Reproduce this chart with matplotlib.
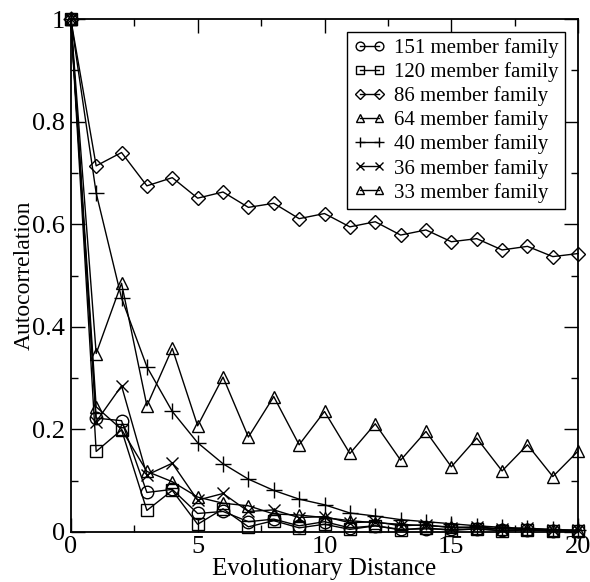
import matplotlib
matplotlib.use("Agg")
import matplotlib.pyplot as plt
from matplotlib.ticker import MultipleLocator, FixedLocator, FixedFormatter

plt.rcParams['font.family'] = ['Liberation Serif', 'DejaVu Serif']

distance = list(range(21))

fam151 = [1, 0.222, 0.217, 0.077, 0.083, 0.036, 0.040, 0.020, 0.025, 0.012, 0.020,
          0.008, 0.012, 0.005, 0.006, 0.005, 0.006, 0.003, 0.004, 0.002, 0.002]
fam120 = [1, 0.157, 0.199, 0.042, 0.081, 0.015, 0.045, 0.010, 0.022, 0.008, 0.015,
          0.005, 0.012, 0.004, 0.008, 0.003, 0.006, 0.002, 0.004, 0.002, 0.002]
fam86 = [1, 0.714, 0.740, 0.675, 0.691, 0.651, 0.663, 0.633, 0.641, 0.611, 0.621,
         0.595, 0.605, 0.579, 0.589, 0.566, 0.572, 0.550, 0.557, 0.537, 0.543]
fam64 = [1, 0.244, 0.200, 0.118, 0.098, 0.068, 0.056, 0.051, 0.035, 0.033, 0.028,
         0.022, 0.018, 0.015, 0.012, 0.010, 0.008, 0.006, 0.005, 0.004, 0.003]
fam40 = [1, 0.661, 0.456, 0.322, 0.235, 0.174, 0.133, 0.103, 0.081, 0.064, 0.053,
         0.037, 0.031, 0.024, 0.020, 0.016, 0.012, 0.009, 0.007, 0.005, 0.003]
fam36 = [1, 0.215, 0.285, 0.111, 0.134, 0.062, 0.075, 0.040, 0.043, 0.028, 0.030,
         0.018, 0.020, 0.012, 0.014, 0.008, 0.010, 0.006, 0.007, 0.004, 0.003]
fam33 = [1, 0.348, 0.485, 0.246, 0.358, 0.207, 0.302, 0.185, 0.264, 0.170, 0.235,
         0.153, 0.211, 0.140, 0.196, 0.127, 0.183, 0.119, 0.170, 0.108, 0.158]

labels = ["151 member family", "120 member family", "86 member family",
          "64 member family", "40 member family", "36 member family",
          "33 member family"]
series = [fam151, fam120, fam86, fam64, fam40, fam36, fam33]
markers = ['o', 's', 'D', '^', '+', 'x', '^']
msizes = [9, 8, 7, 9, 11, 8, 9]

fig = plt.figure(figsize=(5.90, 5.82), dpi=100)
ax = fig.add_axes([0.120, 0.086, 0.860, 0.881])

for ys, m, ms, lab in zip(series, markers, msizes, labels):
    ax.plot(distance, ys, color='black', lw=1.0, marker=m, ms=ms,
            mfc='none', mec='black', mew=1.0, label=lab, clip_on=False)

ax.set_xlim(0, 20)
ax.set_ylim(0, 1)
ax.xaxis.set_major_locator(MultipleLocator(5))
ax.xaxis.set_minor_locator(MultipleLocator(2.5))
ax.yaxis.set_major_locator(FixedLocator([0, 0.2, 0.4, 0.6, 0.8, 1.0]))
ax.yaxis.set_major_formatter(FixedFormatter(["0", "0.2", "0.4", "0.6", "0.8", "1"]))
ax.yaxis.set_minor_locator(MultipleLocator(0.1))
ax.tick_params(which='both', direction='in', top=True, right=True, labelsize=19, width=1.0)
ax.tick_params(which='major', length=10)
ax.tick_params(axis='y', which='major', pad=4)
ax.tick_params(axis='x', which='major', pad=3)
ax.tick_params(which='minor', length=5)
for s in ax.spines.values():
    s.set_linewidth(1.3)

ax.set_xlabel("Evolutionary Distance", fontsize=18, labelpad=0)
ax.set_ylabel("Autocorrelation", fontsize=17, labelpad=-2)

leg = ax.legend(loc='upper right', bbox_to_anchor=(0.974, 0.975), fontsize=15,
                numpoints=2, markerscale=0.7, handlelength=1.5, handletextpad=0.45,
                labelspacing=0.2, borderpad=0.3, borderaxespad=0.0, fancybox=False,
                edgecolor='black', framealpha=1)
leg.get_frame().set_linewidth(1.0)

fig.savefig("out.png", dpi=100)
